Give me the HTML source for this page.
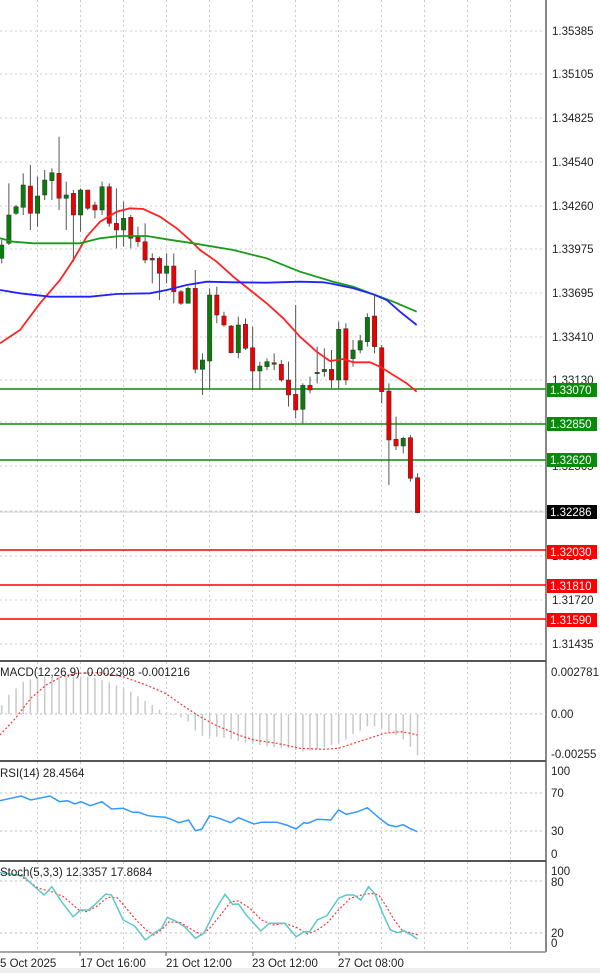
<!DOCTYPE html>
<html><head><meta charset="utf-8"><style>
body{margin:0;background:#fff;width:600px;height:973px;overflow:hidden}
svg{display:block}
text{font-family:"Liberation Sans",sans-serif;font-size:11.5px;fill:#222}
</style></head><body>
<svg id="s" width="600" height="973" viewBox="0 0 600 973">
<g id="grid"></g>
<g id="lines"></g>
<g id="candles"></g>
<g id="ind"></g>
<g>
<text x="552" y="35">1.35385</text>
<text x="552" y="78">1.35105</text>
<text x="552" y="122">1.34825</text>
<text x="552" y="166">1.34540</text>
<text x="552" y="210">1.34260</text>
<text x="552" y="253">1.33975</text>
<text x="552" y="297">1.33695</text>
<text x="552" y="341">1.33410</text>
<text x="552" y="384">1.33130</text>
<text x="552" y="470">1.32565</text>
<text x="552" y="560">1.32000</text>
<text x="552" y="604">1.31720</text>
<text x="552" y="648">1.31435</text>
</g>
<rect x="547" y="383" width="50" height="14" fill="#0a8a0a"/><text x="550" y="394" style="fill:#fff">1.33070</text>
<rect x="547" y="417" width="50" height="14" fill="#0a8a0a"/><text x="550" y="428" style="fill:#fff">1.32850</text>
<rect x="547" y="453" width="50" height="14" fill="#0a8a0a"/><text x="550" y="464" style="fill:#fff">1.32620</text>
<rect x="547" y="505" width="50" height="14" fill="#000"/><text x="550" y="516" style="fill:#fff">1.32286</text>
<rect x="547" y="545" width="50" height="14" fill="#f00"/><text x="550" y="556" style="fill:#fff">1.32030</text>
<rect x="547" y="579" width="50" height="14" fill="#f00"/><text x="550" y="590" style="fill:#fff">1.31810</text>
<rect x="547" y="613" width="50" height="14" fill="#f00"/><text x="550" y="624" style="fill:#fff">1.31590</text>
<text x="0" y="676">MACD(12,26,9) -0.002308 -0.001216</text>
<text x="551" y="676">0.002781</text>
<text x="551" y="718">0.00</text>
<text x="551" y="758">-0.00255</text>
<text x="0" y="777">RSI(14) 28.4564</text>
<text x="551" y="775">100</text>
<text x="551" y="797">70</text>
<text x="551" y="835">30</text>
<text x="551" y="858">0</text>
<text x="0" y="876">Stoch(5,3,3) 12.3357 17.8684</text>
<text x="551" y="875">100</text>
<text x="551" y="886">80</text>
<text x="551" y="937">20</text>
<text x="551" y="947">0</text>
<text x="0" y="967">5 Oct 2025</text>
<text x="80" y="967">17 Oct 16:00</text>
<text x="166" y="967">21 Oct 12:00</text>
<text x="252" y="967">23 Oct 12:00</text>
<text x="338" y="967">27 Oct 08:00</text>
</svg>
<script>
var NS="http://www.w3.org/2000/svg";
function el(p,t,a){var e=document.createElementNS(NS,t);for(var k in a)e.setAttribute(k,a[k]);document.getElementById(p).appendChild(e);return e;}
for(var i=0;i<12;i++){var x=37.5+43*i;if(x>545)break;
 [[0,660],[662,760],[762,860],[862,951]].forEach(function(r){el('grid','line',{x1:x,x2:x,y1:r[0],y2:r[1],stroke:'#ccc','stroke-dasharray':'2,3'});});}
[31,74,118,162,206,249,293,337,380,422,466,511,556,600,644].forEach(function(y){el('grid','line',{x1:0,x2:545,y1:y,y2:y,stroke:'#ccc','stroke-dasharray':'2,3'});});
[714,793,831,881,933].forEach(function(y){el('grid','line',{x1:0,x2:545,y1:y,y2:y,stroke:'#bbb','stroke-dasharray':'2,3'});});
el('grid','line',{x1:0,x2:545,y1:512,y2:512,stroke:'#ccc'});
el('grid','line',{x1:546,x2:546,y1:0,y2:952,stroke:'#888','stroke-width':2});
[661,761,861].forEach(function(y){el('grid','line',{x1:0,x2:546,y1:y,y2:y,stroke:'#555','stroke-width':2});});
el('grid','line',{x1:0,x2:546,y1:952,y2:952,stroke:'#888','stroke-width':1.5});
[80,166,253,339].forEach(function(x){el('grid','line',{x1:x,x2:x,y1:952,y2:956,stroke:'#555'});});
el('grid','rect',{x:0,y:968,width:600,height:5,fill:'#eee'});
[[389,'#0a8a0a'],[424,'#0a8a0a'],[460,'#0a8a0a'],[550,'#f00'],[585,'#f00'],[619,'#f00']].forEach(function(a){el('lines','line',{x1:0,x2:546,y1:a[0],y2:a[0],stroke:a[1],'stroke-width':1.5});});
var C=[['g',385,345,330,400],['g',340,255,160,345],['g',250,230,225,255],['g',232,165,130,255],['r',168,250,105,300],['g',250,198,140,290],['g',195,150,120,210],['g',152,128,115,210],['r',130,205,20,240],['g',205,195,155,300],['r',190,255,180,395],['g',255,180,175,305],['r',180,235,180,240],['r',225,240,215,265],['g',240,170,155,255],['r',170,280,160,290],['r',280,300,175,355],['g',300,265,215,350],['r',262,325,255,355],['r',320,335,290,350],['r',335,390,280,400],['r',385,390,370,460],['r',385,430,380,510],['g',430,408,370,460],['r',408,485,370,520],['r',485,520,480,525],['g',520,475,470,520],['r',475,718,420,730],['g',718,690,670,795],['g',693,495,475,775],['r',495,555,470,580],['r',558,585,545,590],['r',588,668,585,670],['g',668,585,560,685],['r',583,655,565,660],['r',653,723,590,780],['g',723,708,695,780],['g',710,695,685,720],['r',698,703,670,720],['r',703,750,690,755],['r',750,795,695,830],['r',793,840,525,865],['g',838,766,760,880],['r',766,780,740,790],['g',731,727,650,760],['g',725,718,655,740],['r',718,750,660,775],['g',750,598,575,775],['r',596,750,580,765],['g',686,660,630,710],['g',660,632,615,670],['g',635,562,550,650],['r',558,650,497,670],['r',653,785,645,820],['r',783,930,760,1065],['r',928,948,860,960],['g',948,925,920,970],['r',923,1045,915,1055],['r',1043,1148,1030,1150]];
function Y(v){return 130+v/3;}
C.forEach(function(c,i){var x=1.7+7.17*i;var t=Math.min(c[1],c[2]),b=Math.max(c[1],c[2]);
 el('candles','line',{x1:x,x2:x,y1:Y(c[3]),y2:Y(c[4]),stroke:'#555'});
 el('candles','rect',{x:x-2.2,y:Y(t),width:4.4,height:Math.max(1,(b-t)/3),fill:c[0]=='g'?'#0a7a0a':'#e00',stroke:'#333','stroke-width':0.5});});
function pl(g,pts,fx,fy,st){var d=pts.map(function(p,i){return (i?'L':'M')+fx(p[0]).toFixed(1)+','+fy(p[1]).toFixed(1);}).join('');var a={d:d,fill:'none'};for(var k in st)a[k]=st[k];el(g,'path',a);}
var zx=function(v){return v/3;};
pl('candles',[[0,640],[60,600],[120,520],[180,450],[220,390],[260,320],[300,275],[350,245],[390,235],[430,237],[480,260],[530,295],[570,330],[600,360],[650,395],[700,440],[750,480],[800,520],[850,565],[900,620],[950,665],[990,693],[1030,687],[1060,697],[1110,697],[1140,710],[1180,735],[1220,760],[1250,785]],zx,Y,{stroke:'#f22','stroke-width':1.8});
pl('candles',[[0,325],[40,335],[100,340],[240,340],[300,325],[360,318],[440,318],[500,328],[580,340],[700,360],[800,385],[900,425],[1000,455],[1060,470],[1120,493],[1180,515],[1250,545]],zx,Y,{stroke:'#1a9a1a','stroke-width':1.8});
pl('candles',[[0,480],[60,490],[150,500],[270,500],[350,492],[450,490],[500,480],[560,465],[620,455],[700,457],[800,458],[900,455],[970,457],[1000,462],[1060,475],[1120,493],[1160,510],[1200,545],[1250,585]],zx,Y,{stroke:'#22f','stroke-width':1.8});
var ix=function(v){return v/2.6;}, iy=function(v){return 630+v/3;};
var H=[[5,225],[22,195],[42,175],[60,155],[80,148],[100,140],[240,140],[280,155],[300,165],[340,185],[360,200],[380,215],[400,228],[415,240],[450,255],[470,262],[490,275],[510,305],[530,320],[570,320],[610,330],[650,340],[700,350],[750,355],[790,365],[820,360],[850,350],[880,340],[900,328],[920,310],[940,300],[960,285],[980,290],[1000,300],[1020,310],[1040,320],[1060,340],[1070,355],[1087,378]];
function interp(x){for(var i=1;i<H.length;i++){if(x<=H[i][0]){var a=H[i-1],b=H[i];return a[1]+(b[1]-a[1])*(x-a[0])/(b[0]-a[0]);}}return H[H.length-1][1];}
for(var i=0;i<59;i++){var x=1.7+7.17*i;var v=interp(x*2.6);el('ind','line',{x1:x,x2:x,y1:714,y2:iy(v),stroke:'#c8c8c8','stroke-width':1.5});}
pl('ind',[[0,315],[40,265],[80,205],[120,165],[160,140],[200,130],[260,128],[320,140],[380,165],[430,190],[480,230],[520,260],[560,285],[620,315],[660,330],[720,340],[780,355],[840,358],[880,355],[920,340],[960,325],[1000,310],[1040,305],[1060,308],[1085,315]],ix,iy,{stroke:'#f33','stroke-width':1.2,'stroke-dasharray':'2,2'});
pl('ind',[[0,512],[55,498],[80,510],[130,498],[155,515],[175,512],[195,522],[210,515],[235,527],[265,515],[290,537],[320,535],[345,547],[360,547],[385,557],[410,560],[430,562],[445,568],[465,578],[490,570],[508,602],[525,597],[545,557],[570,565],[600,578],[620,563],[660,582],[680,577],[720,577],[745,585],[770,597],[790,578],[800,580],[825,568],[860,570],[880,540],[900,553],[930,545],[955,533],[990,568],[1010,585],[1030,590],[1048,584],[1065,595],[1085,605]],ix,iy,{stroke:'#3399ff','stroke-width':1.5});
pl('ind',[[0,728],[50,735],[100,775],[135,785],[165,800],[185,820],[205,840],[225,845],[250,830],[280,802],[305,803],[325,830],[350,865],[380,900],[400,915],[420,900],[440,875],[470,878],[500,900],[525,915],[545,895],[570,860],[600,815],[620,813],[650,835],[680,870],[710,885],[740,880],[770,892],[800,912],[825,900],[850,880],[880,840],[910,805],[940,795],[965,790],[985,795],[1005,830],[1025,870],[1045,900],[1065,908],[1088,915]],ix,iy,{stroke:'#f33','stroke-width':1.2,'stroke-dasharray':'2,2'});
pl('ind',[[0,728],[60,738],[90,770],[115,795],[135,770],[160,815],[190,860],[210,840],[230,840],[250,820],[275,792],[290,795],[320,870],[350,888],[378,930],[400,910],[420,895],[435,862],[460,875],[480,890],[508,925],[530,910],[560,840],[585,793],[605,823],[620,822],[640,855],[660,880],[678,903],[700,880],[740,880],[770,920],[790,905],[805,905],[825,870],[850,857],[880,805],[900,795],[920,795],[938,810],[958,770],[975,792],[995,850],[1015,900],[1035,908],[1050,902],[1070,915],[1085,927]],ix,iy,{stroke:'#5cc8c8','stroke-width':1.5});
</script>
</body></html>
